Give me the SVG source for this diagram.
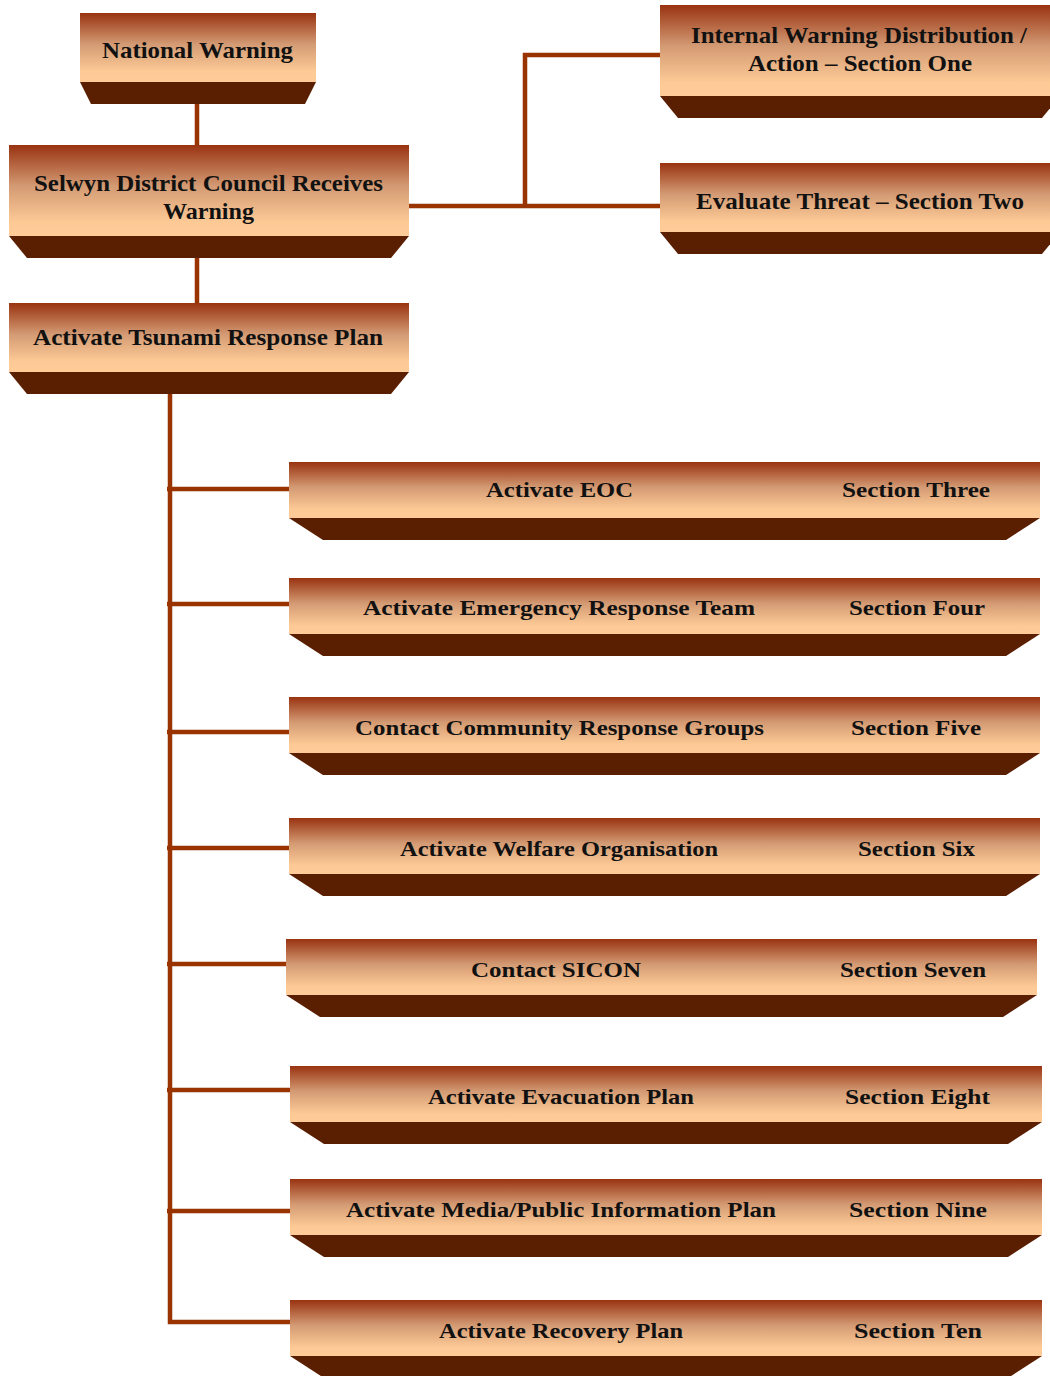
<svg xmlns="http://www.w3.org/2000/svg" width="1050" height="1376" viewBox="0 0 1050 1376">
<defs>
<linearGradient id="face" x1="0" y1="0" x2="0" y2="1">
<stop offset="0" stop-color="#993311"/>
<stop offset="0.45" stop-color="#d39a73"/>
<stop offset="0.85" stop-color="#fdca96"/>
<stop offset="1" stop-color="#ffcc99"/>
</linearGradient>
</defs>
<style>
.face{fill:url(#face)}
.base{fill:#5a1e00}
.t{font-family:"Liberation Serif","Times New Roman",serif;font-weight:bold;fill:#111;text-anchor:middle}
.big{font-size:24px}
.sm{font-size:22px}
.c{fill:none;stroke:#993300;stroke-width:4.5}
</style>
<rect width="1050" height="1376" fill="#fff"/>
<g id="connectors">
<path class="c" d="M197,104V145M197,258V303M409,206H660M525,206V55H660"/>
<path class="c" d="M170,394V1322H290M167,489H289M167,604H289M167,732H289M167,848H289M167,964H286M167,1090H290M167,1211H290"/>
</g>
<g id="national-warning">
<rect class="face" x="80" y="13" width="236" height="69"/>
<polygon class="base" points="80,82 316,82 305,104 91,104"/>
<text class="t big" x="197.5" y="58" textLength="191" lengthAdjust="spacingAndGlyphs">National Warning</text>
</g>
<g id="selwyn">
<rect class="face" x="9" y="145" width="400" height="91"/>
<polygon class="base" points="9,236 409,236 391,258 27,258"/>
<text class="t big" x="208.5" y="191" textLength="349" lengthAdjust="spacingAndGlyphs">Selwyn District Council Receives</text>
<text class="t big" x="208.5" y="219" textLength="91" lengthAdjust="spacingAndGlyphs">Warning</text>
</g>
<g id="tsunami-plan">
<rect class="face" x="9" y="303" width="400" height="69"/>
<polygon class="base" points="9,372 409,372 391,394 27,394"/>
<text class="t big" x="208" y="345" textLength="350" lengthAdjust="spacingAndGlyphs">Activate Tsunami Response Plan</text>
</g>
<g id="internal-warning">
<rect class="face" x="660" y="5" width="400" height="91"/>
<polygon class="base" points="660,96 1060,96 1042,118 678,118"/>
<text class="t big" x="859" y="43" textLength="336" lengthAdjust="spacingAndGlyphs">Internal Warning Distribution /</text>
<text class="t big" x="860" y="71" textLength="224" lengthAdjust="spacingAndGlyphs">Action – Section One</text>
</g>
<g id="evaluate-threat">
<rect class="face" x="660" y="163" width="400" height="69"/>
<polygon class="base" points="660,232 1060,232 1042,254 678,254"/>
<text class="t big" x="860" y="209" textLength="328" lengthAdjust="spacingAndGlyphs">Evaluate Threat – Section Two</text>
</g>
<g id="eoc">
<rect class="face" x="289" y="462" width="751" height="56"/>
<polygon class="base" points="289,518 1040,518 1006,540 323,540"/>
<text class="t sm" x="559.5" y="497" textLength="147" lengthAdjust="spacingAndGlyphs">Activate EOC</text>
<text class="t sm" x="916" y="497" textLength="148" lengthAdjust="spacingAndGlyphs">Section Three</text>
</g>
<g id="ert">
<rect class="face" x="289" y="578" width="751" height="56"/>
<polygon class="base" points="289,634 1040,634 1006,656 323,656"/>
<text class="t sm" x="559" y="615" textLength="392" lengthAdjust="spacingAndGlyphs">Activate Emergency Response Team</text>
<text class="t sm" x="917" y="615" textLength="136" lengthAdjust="spacingAndGlyphs">Section Four</text>
</g>
<g id="community">
<rect class="face" x="289" y="697" width="751" height="56"/>
<polygon class="base" points="289,753 1040,753 1006,775 323,775"/>
<text class="t sm" x="559.5" y="735" textLength="409" lengthAdjust="spacingAndGlyphs">Contact Community Response Groups</text>
<text class="t sm" x="916" y="735" textLength="130" lengthAdjust="spacingAndGlyphs">Section Five</text>
</g>
<g id="welfare">
<rect class="face" x="289" y="818" width="751" height="56"/>
<polygon class="base" points="289,874 1040,874 1006,896 323,896"/>
<text class="t sm" x="559" y="856" textLength="318" lengthAdjust="spacingAndGlyphs">Activate Welfare Organisation</text>
<text class="t sm" x="916.5" y="856" textLength="117" lengthAdjust="spacingAndGlyphs">Section Six</text>
</g>
<g id="sicon">
<rect class="face" x="286" y="939" width="751" height="56"/>
<polygon class="base" points="286,995 1037,995 1003,1017 320,1017"/>
<text class="t sm" x="556" y="977" textLength="170" lengthAdjust="spacingAndGlyphs">Contact SICON</text>
<text class="t sm" x="913" y="977" textLength="146" lengthAdjust="spacingAndGlyphs">Section Seven</text>
</g>
<g id="evacuation">
<rect class="face" x="290" y="1066" width="752" height="56"/>
<polygon class="base" points="290,1122 1042,1122 1008,1144 324,1144"/>
<text class="t sm" x="561" y="1104" textLength="266" lengthAdjust="spacingAndGlyphs">Activate Evacuation Plan</text>
<text class="t sm" x="917.5" y="1104" textLength="145" lengthAdjust="spacingAndGlyphs">Section Eight</text>
</g>
<g id="media">
<rect class="face" x="290" y="1179" width="752" height="56"/>
<polygon class="base" points="290,1235 1042,1235 1008,1257 324,1257"/>
<text class="t sm" x="561" y="1217" textLength="430" lengthAdjust="spacingAndGlyphs">Activate Media/Public Information Plan</text>
<text class="t sm" x="918" y="1217" textLength="138" lengthAdjust="spacingAndGlyphs">Section Nine</text>
</g>
<g id="recovery">
<rect class="face" x="290" y="1300" width="752" height="56"/>
<polygon class="base" points="290,1356 1042,1356 1008,1378 324,1378"/>
<text class="t sm" x="561" y="1338" textLength="244" lengthAdjust="spacingAndGlyphs">Activate Recovery Plan</text>
<text class="t sm" x="918" y="1338" textLength="128" lengthAdjust="spacingAndGlyphs">Section Ten</text>
</g>
</svg>
